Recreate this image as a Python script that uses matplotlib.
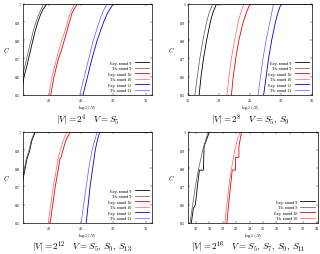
import matplotlib
matplotlib.use("Agg")
import matplotlib.pyplot as plt

plt.rcParams['font.family'] = ['Liberation Serif', 'DejaVu Serif']
plt.rcParams['mathtext.fontset'] = 'cm'

# ---- data (CDF curves: x = log2(N), y = C) ----
# panel 1: |V| = 2^4
p1_exp9_x = [15.7, 16.15, 16.6, 17.0, 17.4, 17.8, 18.3, 18.7, 19.1, 19.7, 40]
p1_exp9_y = [0.5, 0.6, 0.66, 0.72, 0.78, 0.84, 0.9, 0.94, 0.97, 1.0, 1.0]
p1_th9_x = [15.4, 15.9, 16.3, 16.7, 17.1, 17.5, 18.0, 18.4, 18.8, 19.2, 40]
p1_th9_y = [0.5, 0.6, 0.66, 0.72, 0.78, 0.84, 0.9, 0.94, 0.97, 1.0, 1.0]
p1_exp10_x = [20.3, 20.8, 21.5, 22.0, 22.4, 22.8, 23.2, 23.6, 24.4, 40]
p1_exp10_y = [0.5, 0.6, 0.7, 0.75, 0.8, 0.85, 0.9, 0.95, 1.0, 1.0]
p1_th10_x = [20.0, 20.5, 21.2, 21.6, 22.0, 22.5, 22.9, 23.3, 24.0, 40]
p1_th10_y = [0.5, 0.6, 0.7, 0.75, 0.8, 0.85, 0.9, 0.95, 1.0, 1.0]
p1_exp11_x = [25.3, 26.0, 26.7, 27.5, 28.5, 29.1, 30.0, 40]
p1_exp11_y = [0.5, 0.6, 0.7, 0.8, 0.9, 0.95, 1.0, 1.0]
p1_th11_x = [24.8, 25.5, 26.2, 26.9, 27.8, 28.3, 29.0, 40]
p1_th11_y = [0.5, 0.6, 0.7, 0.8, 0.9, 0.95, 1.0, 1.0]

# panel 2: |V| = 2^8
p2_exp9_x = [16.8, 17.1, 17.5, 18.0, 18.6, 19.0, 19.6, 40]
p2_exp9_y = [0.5, 0.6, 0.7, 0.8, 0.9, 0.95, 1.0, 1.0]
p2_th9_x = [16.1, 16.5, 16.9, 17.4, 18.0, 18.4, 19.0, 40]
p2_th9_y = [0.5, 0.6, 0.7, 0.8, 0.9, 0.95, 1.0, 1.0]
p2_exp10_x = [22.0, 22.3, 22.7, 23.2, 23.9, 24.4, 25.0, 40]
p2_exp10_y = [0.5, 0.6, 0.7, 0.8, 0.9, 0.95, 1.0, 1.0]
p2_th10_x = [21.3, 21.6, 22.0, 22.5, 23.1, 23.5, 24.0, 40]
p2_th10_y = [0.5, 0.6, 0.7, 0.8, 0.9, 0.95, 1.0, 1.0]
p2_exp11_x = [27.2, 27.6, 28.0, 28.5, 29.1, 29.5, 30.0, 40]
p2_exp11_y = [0.5, 0.6, 0.7, 0.8, 0.9, 0.95, 1.0, 1.0]
p2_th11_x = [26.3, 26.7, 27.1, 27.6, 28.2, 28.5, 28.8, 40]
p2_th11_y = [0.5, 0.6, 0.7, 0.8, 0.9, 0.95, 1.0, 1.0]

# panel 3: |V| = 2^12
p3_exp9_x = [15.0, 15.6, 16.05, 16.6, 17.05, 17.35, 17.9, 40]
p3_exp9_y = [0.5, 0.65, 0.75, 0.85, 0.9, 0.95, 1.0, 1.0]
p3_th9_x = [14.9, 15.5, 15.95, 16.5, 16.95, 17.25, 17.8, 40]
p3_th9_y = [0.5, 0.65, 0.75, 0.85, 0.9, 0.95, 1.0, 1.0]
p3_exp10_x = [20.2, 20.6, 21.0, 21.5, 21.7, 21.9, 22.2, 22.6, 23.3, 40]
p3_exp10_y = [0.5, 0.6, 0.7, 0.8, 0.85, 0.86, 0.9, 0.95, 1.0, 1.0]
p3_th10_x = [19.9, 20.3, 20.7, 21.2, 21.4, 21.8, 22.2, 22.8, 40]
p3_th10_y = [0.5, 0.6, 0.7, 0.8, 0.85, 0.9, 0.95, 1.0, 1.0]
p3_exp11_x = [25.8, 26.1, 26.4, 26.8, 27.2, 27.5, 27.9, 40]
p3_exp11_y = [0.5, 0.6, 0.7, 0.8, 0.9, 0.95, 1.0, 1.0]
p3_th11_x = [25.0, 25.4, 25.8, 26.2, 26.7, 27.1, 27.5, 40]
p3_th11_y = [0.5, 0.6, 0.7, 0.8, 0.9, 0.95, 1.0, 1.0]

# panel 4: |V| = 2^16
p4_exp9_x = [15.3, 15.6, 15.8, 15.9, 16.2, 16.5, 17.1, 17.2, 17.6, 18.0, 40]
p4_exp9_y = [0.5, 0.58, 0.59, 0.6, 0.7, 0.79, 0.79, 0.92, 0.96, 1.0, 1.0]
p4_th9_x = [15.1, 15.5, 15.9, 16.4, 17.0, 17.4, 17.8, 40]
p4_th9_y = [0.5, 0.6, 0.7, 0.8, 0.9, 0.95, 1.0, 1.0]
p4_exp10_x = [20.6, 21.0, 21.4, 21.9, 21.9, 22.4, 22.4, 22.8, 40]
p4_exp10_y = [0.5, 0.65, 0.79, 0.79, 0.86, 0.86, 0.92, 1.0, 1.0]
p4_th10_x = [20.3, 20.9, 21.3, 21.8, 22.1, 22.6, 40]
p4_th10_y = [0.5, 0.7, 0.8, 0.9, 0.95, 1.0, 1.0]

captions = [r'$|V| = 2^4 \quad V = S_5$',
            r'$|V| = 2^8 \quad V = S_5,\, S_9$',
            r'$|V| = 2^{12} \quad V = S_5,\, S_9,\, S_{13}$',
            r'$|V| = 2^{16} \quad V = S_5,\, S_7,\, S_9,\, S_{11}$']
yticks = [0.5, 0.6, 0.7, 0.8, 0.9, 1.0]
ytick_labels = ['0.5', '0.6', '0.7', '0.8', '0.9', '1']

colors = {9: ('#000000', '#555555'), 10: ('#ee0000', '#ff6060'), 11: ('#0000cc', '#5a5aff')}

panels = [
    dict(rect=[0.072, 0.624, 0.403, 0.357], xlim=(16, 36), xticks=[20, 25, 30, 35],
         curves={9: (p1_exp9_x, p1_exp9_y, p1_th9_x, p1_th9_y),
                 10: (p1_exp10_x, p1_exp10_y, p1_th10_x, p1_th10_y),
                 11: (p1_exp11_x, p1_exp11_y, p1_th11_x, p1_th11_y)},
         cap=(88, 120)),
    dict(rect=[0.5875, 0.624, 0.3875, 0.357], xlim=(15, 35), xticks=[15, 20, 25, 30, 35],
         curves={9: (p2_exp9_x, p2_exp9_y, p2_th9_x, p2_th9_y),
                 10: (p2_exp10_x, p2_exp10_y, p2_th10_x, p2_th10_y),
                 11: (p2_exp11_x, p2_exp11_y, p2_th11_x, p2_th11_y)},
         cap=(250, 120)),
    dict(rect=[0.072, 0.122, 0.403, 0.357], xlim=(16, 36), xticks=[20, 25, 30, 35],
         curves={9: (p3_exp9_x, p3_exp9_y, p3_th9_x, p3_th9_y),
                 10: (p3_exp10_x, p3_exp10_y, p3_th10_x, p3_th10_y),
                 11: (p3_exp11_x, p3_exp11_y, p3_th11_x, p3_th11_y)},
         cap=(82, 247.5)),
    dict(rect=[0.5875, 0.122, 0.406, 0.357], xlim=(14.8, 34.2),
         xticks=[16, 18, 20, 22, 24, 26, 28, 30, 32, 34],
         curves={9: (p4_exp9_x, p4_exp9_y, p4_th9_x, p4_th9_y),
                 10: (p4_exp10_x, p4_exp10_y, p4_th10_x, p4_th10_y)},
         cap=(248, 247.5)),
]

W, H = 320, 255
fig = plt.figure(figsize=(3.2, 2.55), dpi=100)

for i, p in enumerate(panels):
    ax = fig.add_axes(p['rect'])
    for rnd, (ex, ey, tx, ty) in p['curves'].items():
        c_exp, c_th = colors[rnd]
        ax.plot(ex, ey, color=c_exp, lw=0.6, label=f'Exp. round {rnd}')
        ax.plot(tx, ty, color=c_th, lw=0.5, label=f'Th. round {rnd}')
    ax.set_xlim(*p['xlim'])
    ax.set_ylim(0.5, 1.0)
    ax.set_xticks(p['xticks'])
    ax.set_yticks(yticks)
    ax.set_yticklabels(ytick_labels)
    ax.tick_params(direction='in', top=True, right=True, length=1.5, width=0.3,
                   labelsize=3, pad=2)
    for s in ax.spines.values():
        s.set_linewidth(0.5)
    ax.set_xlabel(r'$\log_2(N)$', fontsize=3.5, labelpad=0.5)
    ax.set_ylabel(r'$C$', fontsize=4.5, rotation=0, labelpad=6, va='center')
    ax.legend(loc='lower right', fontsize=3, frameon=False, markerfirst=False,
              handlelength=3.5, handletextpad=0.8, labelspacing=0.35,
              borderaxespad=0.3)
    cx, cy = p['cap']
    fig.text(cx / W, 1 - cy / H, captions[i], fontsize=6.6, ha='center', va='center')

fig.savefig('out.png', dpi=100)
